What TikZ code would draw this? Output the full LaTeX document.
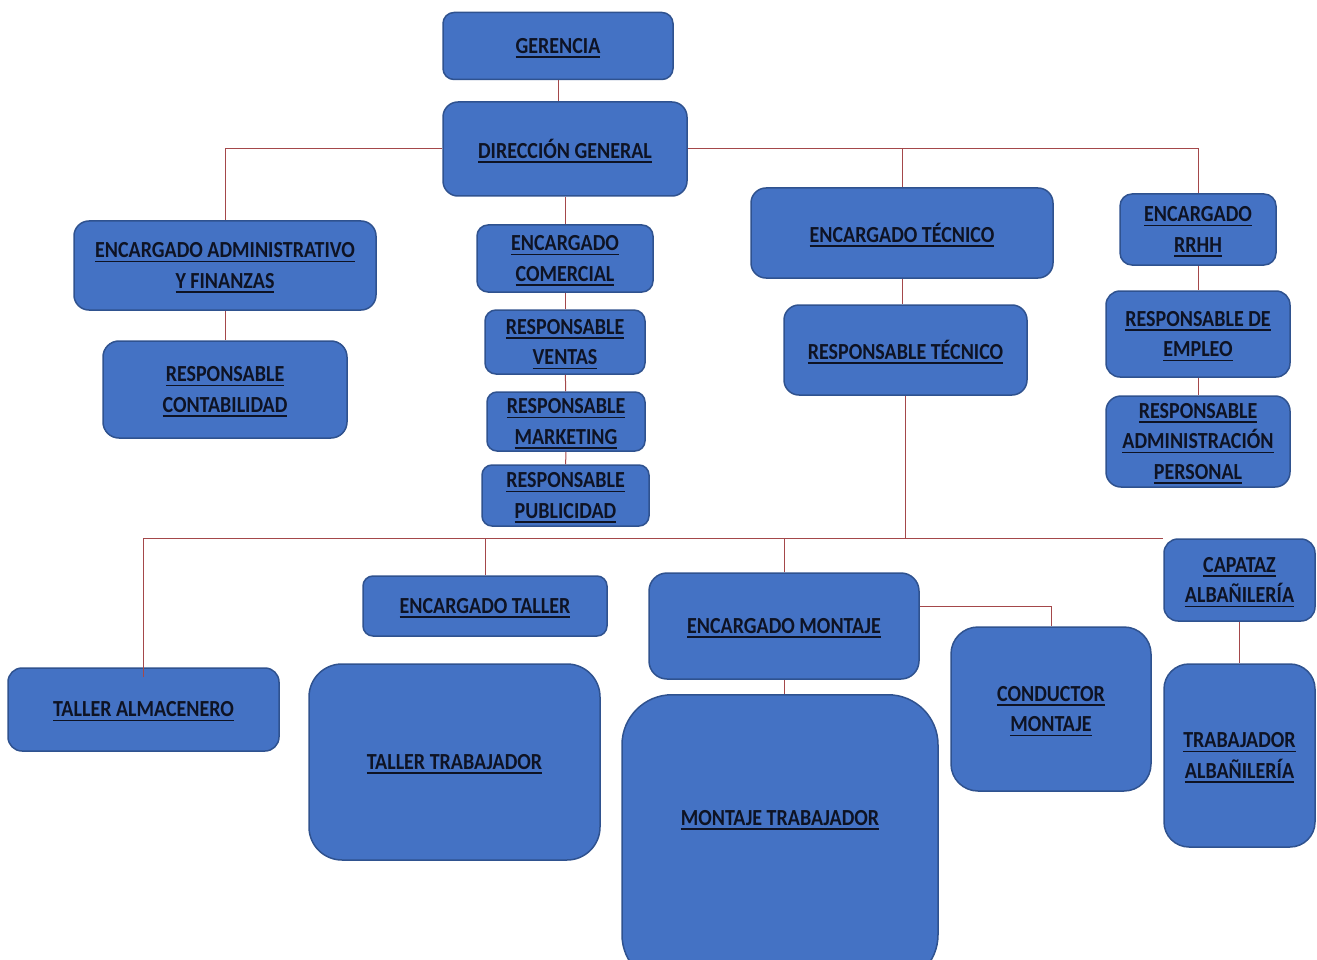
\documentclass[tikz,border=0pt]{standalone}
\usepackage{fontspec}
\setmainfont{Carlito}[FakeStretch=0.87]

\definecolor{boxfill}{HTML}{4472C4}
\definecolor{boxline}{HTML}{2F528F}
\definecolor{linkred}{HTML}{A4484A}
\definecolor{txtnavy}{HTML}{0E1324}

% underlined label text
\newcommand{\uln}[1]{\leavevmode\setbox0\hbox{#1}\rlap{\smash{\rule[-4.5pt]{\wd0}{1.6pt}}}\box0}

\begin{document}
\begin{tikzpicture}
[
	x=1pt,
	y=-1pt,
	box/.style={draw=boxline,fill=boxfill,line width=1.5pt,rounded corners=#1,
		align=center,text=txtnavy,inner sep=0pt,
		font=\bfseries\fontsize{23}{30.5}\selectfont},
	box/.default=11pt,
	boxtext/.style={align=center,text=txtnavy,inner sep=0pt,
		font=\bfseries\fontsize{23}{30.5}\selectfont},
	link/.style={draw=linkred,line width=1pt}
]
	\useasboundingbox (0,0) rectangle (1317,960);

	% top
	\node[box,minimum width=230,minimum height=67] (ger) at (558,46) {\uln{GERENCIA}};
	\node[box=15pt,minimum width=244,minimum height=94] (dir) at (565,149) {\uln{DIRECCIÓN GENERAL}};

	% administracion
	\node[box=15pt,minimum width=302,minimum height=89] (encadm) at (225,265.5)
		{\uln{ENCARGADO ADMINISTRATIVO}\\\uln{Y FINANZAS}};
	\node[box=16pt,minimum width=244,minimum height=97] (cont) at (225,389.5)
		{\uln{RESPONSABLE}\\\uln{CONTABILIDAD}};

	% comercial
	\node[box,minimum width=176,minimum height=67] (enccom) at (565,258.5)
		{\uln{ENCARGADO}\\\uln{COMERCIAL}};
	\node[box,minimum width=160,minimum height=64] (ventas) at (565,342)
		{\uln{RESPONSABLE}\\\uln{VENTAS}};
	\node[box=10pt,minimum width=158,minimum height=59] (mkt) at (566,421.5)
		{\uln{RESPONSABLE}\\\uln{MARKETING}};
	\node[box=10pt,minimum width=167,minimum height=61] (pub) at (565.5,495.5)
		{\uln{RESPONSABLE}\\\uln{PUBLICIDAD}};

	% tecnico
	\node[box=15pt,minimum width=302,minimum height=90] (enctec) at (902,233) {\uln{ENCARGADO TÉCNICO}};
	\node[box=15pt,minimum width=243,minimum height=90] (restec) at (905.5,350) {\uln{RESPONSABLE TÉCNICO}};

	% rrhh
	\node[box=12pt,minimum width=156,minimum height=71] (encrrhh) at (1198,229.5)
		{\uln{ENCARGADO}\\\uln{RRHH}};
	\node[box=14pt,minimum width=184,minimum height=86] (empleo) at (1198,334)
		{\uln{RESPONSABLE DE}\\\uln{EMPLEO}};
	\node[box=15pt,minimum width=184,minimum height=91] (admper) at (1198,441.5)
		{\uln{RESPONSABLE}\\\uln{ADMINISTRACIÓN}\\\uln{PERSONAL}};

	% talleres y montaje
	\node[box=14pt,minimum width=271,minimum height=83] (almacen) at (143.5,709.5) {\uln{TALLER ALMACENERO}};
	\node[box=10pt,minimum width=244,minimum height=60] (enctal) at (485,606) {\uln{ENCARGADO TALLER}};
	\node[box=33pt,minimum width=291,minimum height=196] (taltrab) at (454.5,762) {\uln{TALLER TRABAJADOR}};
	\node[box=18pt,minimum width=270,minimum height=106] (encmon) at (784,626) {\uln{ENCARGADO MONTAJE}};
	\node[box=50pt,minimum width=316,minimum height=290,anchor=north] (montrab) at (780,694) {};
	\node[boxtext] (montrabtxt) at (780,818) {\uln{MONTAJE TRABAJADOR}};
	\node[box=27pt,minimum width=200,minimum height=164] (conductor) at (1051,709)
		{\uln{CONDUCTOR}\\\uln{MONTAJE}};

	% albanileria
	\node[box=14pt,minimum width=151,minimum height=82] (capataz) at (1239.5,580)
		{\uln{CAPATAZ}\\\uln{ALBAÑILERÍA}};
	\node[box=25pt,minimum width=151,minimum height=183] (trabalb) at (1239.5,755.5)
		{\uln{TRABAJADOR}\\\uln{ALBAÑILERÍA}};

	% links
	\coordinate (bus) at (0,539);
	\draw[link] (ger.south) -- (ger.south |- dir.north);
	\draw[link] (dir.west) -| (encadm.north);
	\draw[link] (encadm) -- (cont);
	\draw[link] (dir.east) -| (encrrhh.north);
	\draw[link] (dir.east -| enctec.north) -- (enctec.north);
	\draw[link] (enctec.south) -- (enctec.south |- restec.north);
	\foreach \a/\b in {dir/enccom,enccom/ventas,ventas/mkt,mkt/pub,encrrhh/empleo,empleo/admper,capataz/trabalb} {
		\draw[link] (\a) -- (\b);
	}
	\draw[link] (restec.south) -- (restec.south |- bus);
	\draw[link] ([yshift=-10pt]almacen.north) |- (capataz.north west);
	\draw[link] (enctal.north) -- (enctal.north |- bus);
	\draw[link] (encmon.north) -- (encmon.north |- bus);
	\draw[link] ([yshift=20pt]encmon.east) -| (conductor.north);
	\draw[link] (encmon.south) -- (encmon.south |- montrab.north);

\end{tikzpicture}
\end{document}
